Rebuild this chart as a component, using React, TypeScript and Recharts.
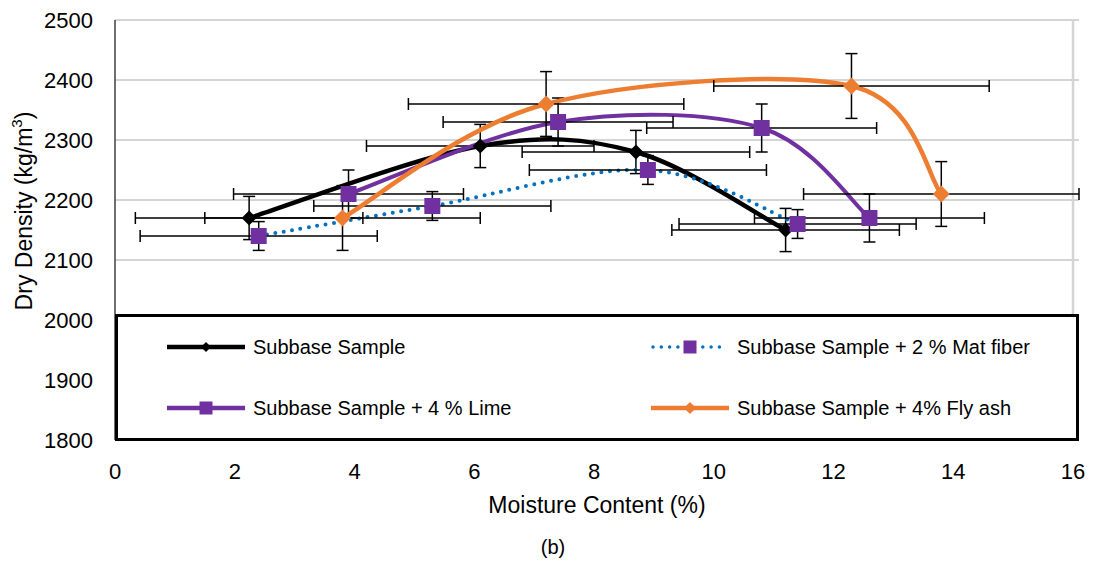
import React from 'react';
import {
  ComposedChart,
  Line,
  Scatter,
  XAxis,
  YAxis,
  CartesianGrid,
  ErrorBar,
  Legend,
  ReferenceLine,
} from 'recharts';

// ---------- data ----------
const seriesNames = [
  'Subbase Sample',
  'Subbase Sample + 2 % Mat fiber',
  'Subbase Sample + 4 % Lime',
  'Subbase Sample + 4% Fly ash',
];

const subbaseMoisture = [2.24, 6.1, 8.7, 11.2];
const subbaseDensity = [2170, 2290, 2280, 2150];
const subbaseMoistureErr = [1.9, 1.9, 1.9, 1.9];
const subbaseDensityErr = [36, 36, 36, 36];

const matMoisture = [2.4, 5.3, 8.9, 11.4];
const matDensity = [2140, 2190, 2250, 2160];
const matMoistureErr = [1.98, 1.98, 1.98, 1.98];
const matDensityErr = [24, 24, 24, 24];

const limeMoisture = [3.9, 7.4, 10.8, 12.6];
const limeDensity = [2210, 2330, 2320, 2170];
const limeMoistureErr = [1.92, 1.92, 1.92, 1.92];
const limeDensityErr = [40, 40, 40, 40];

const flyMoisture = [3.8, 7.2, 12.3, 13.8];
const flyDensity = [2170, 2360, 2390, 2210];
const flyMoistureErr = [2.3, 2.3, 2.3, 2.3];
const flyDensityErr = [54, 54, 54, 54];

const xTicks = [0, 2, 4, 6, 8, 10, 12, 14, 16];
const yTicks = [1800, 1900, 2000, 2100, 2200, 2300, 2400, 2500];

const xTitle = 'Moisture Content (%)';
const yTitle = 'Dry Density (kg/m';
const yTitleSup = '3';
const caption = '(b)';

// ---------- helpers ----------
const build = (xs: number[], ys: number[], exs: number[], eys: number[]) =>
  xs.map((x, i) => ({ x, y: ys[i], ex: exs[i], ey: eys[i] }));

const subbaseData = build(subbaseMoisture, subbaseDensity, subbaseMoistureErr, subbaseDensityErr);
const matData = build(matMoisture, matDensity, matMoistureErr, matDensityErr);
const limeData = build(limeMoisture, limeDensity, limeMoistureErr, limeDensityErr);
const flyData = build(flyMoisture, flyDensity, flyMoistureErr, flyDensityErr);

const FONT = '"Liberation Sans", Arial, Helvetica, sans-serif';
const BLACK = '#000000';
const BLUE = '#0070C0';
const PURPLE = '#7030A0';
const ORANGE = '#ED7D31';
const GRID = '#D4D4D4';

// Excel-like smoothing curve (Catmull-Rom style Bezier)
function excelSmooth(context: any) {
  let pts: number[][] = [];
  return {
    areaStart() {},
    areaEnd() {},
    lineStart() {
      pts = [];
    },
    point(x: number, y: number) {
      pts.push([+x, +y]);
    },
    lineEnd() {
      const n = pts.length;
      if (n === 0) return;
      context.moveTo(pts[0][0], pts[0][1]);
      if (n === 1) return;
      const t = 1 / 6;
      for (let i = 0; i < n - 1; i++) {
        const p0 = pts[i - 1] || pts[i];
        const p1 = pts[i];
        const p2 = pts[i + 1];
        const p3 = pts[i + 2] || p2;
        context.bezierCurveTo(
          p1[0] + (p2[0] - p0[0]) * t,
          p1[1] + (p2[1] - p0[1]) * t,
          p2[0] - (p3[0] - p1[0]) * t,
          p2[1] - (p3[1] - p1[1]) * t,
          p2[0],
          p2[1]
        );
      }
    },
  };
}

const diamondShape = (r: number, color: string) => (props: any) => {
  const { cx, cy } = props;
  if (cx == null || cy == null) return <g />;
  return (
    <polygon
      points={`${cx},${cy - r} ${cx + r},${cy} ${cx},${cy + r} ${cx - r},${cy}`}
      fill={color}
    />
  );
};

const squareShape = (s: number, color: string) => (props: any) => {
  const { cx, cy } = props;
  if (cx == null || cy == null) return <g />;
  return <rect x={cx - s / 2} y={cy - s / 2} width={s} height={s} fill={color} />;
};

// ---------- legend ----------
const LegendIcon = ({ idx }: { idx: number }) => {
  const w = 78;
  const m = 10;
  const c = w / 2;
  if (idx === 0) {
    return (
      <svg width={w} height={20}>
        <line x1={0} y1={m} x2={w} y2={m} stroke={BLACK} strokeWidth={4.5} />
        <polygon points={`${c},${m - 5} ${c + 5},${m} ${c},${m + 5} ${c - 5},${m}`} fill={BLACK} />
      </svg>
    );
  }
  if (idx === 1) {
    return (
      <svg width={w} height={20}>
        <line
          x1={2}
          y1={m}
          x2={w - 2}
          y2={m}
          stroke={BLUE}
          strokeWidth={3.5}
          strokeDasharray="0 8.3"
          strokeLinecap="round"
        />
        <rect x={c - 6.5} y={m - 6.5} width={13} height={13} fill={PURPLE} />
      </svg>
    );
  }
  if (idx === 2) {
    return (
      <svg width={w} height={20}>
        <line x1={0} y1={m} x2={w} y2={m} stroke={PURPLE} strokeWidth={4.5} />
        <rect x={c - 6.5} y={m - 6.5} width={13} height={13} fill={PURPLE} />
      </svg>
    );
  }
  return (
    <svg width={w} height={20}>
      <line x1={0} y1={m} x2={w} y2={m} stroke={ORANGE} strokeWidth={4.5} />
      <polygon points={`${c},${m - 6} ${c + 6},${m} ${c},${m + 6} ${c - 6},${m}`} fill={ORANGE} />
    </svg>
  );
};

const legendPos = [
  { left: 52, top: 33 },
  { left: 536, top: 33 },
  { left: 52, top: 94 },
  { left: 536, top: 94 },
];

const renderLegend = () => (
  <div
    style={{
      position: 'relative',
      width: 964,
      height: 127,
      border: '3px solid #000',
      boxSizing: 'border-box',
      background: '#fff',
      fontFamily: FONT,
    }}
  >
    {seriesNames.map((name, i) => (
      <div
        key={name}
        style={{
          position: 'absolute',
          left: legendPos[i].left - 3,
          top: legendPos[i].top - 3 - 12,
          height: 24,
          display: 'flex',
          alignItems: 'center',
          whiteSpace: 'nowrap',
        }}
      >
        <LegendIcon idx={i} />
        <span style={{ marginLeft: 8, fontSize: 20, color: '#000', lineHeight: '24px' }}>{name}</span>
      </div>
    ))}
  </div>
);

// ---------- titles ----------
const renderXTitles = () => (
  <g>
    <text x={589} y={505} textAnchor="middle" fontSize={23} fontFamily={FONT} fill="#000">
      {xTitle}
    </text>
    <text x={545} y={546} textAnchor="middle" fontSize={20} fontFamily={FONT} fill="#000">
      {caption}
    </text>
  </g>
);

const renderYTitle = () => (
  <text
    x={16}
    y={203}
    transform="rotate(-90 16 203)"
    textAnchor="middle"
    dominantBaseline="central"
    fontSize={23}
    fontFamily={FONT}
    fill="#000"
  >
    {yTitle}
    <tspan dy={-8} fontSize={15}>
      {yTitleSup}
    </tspan>
    <tspan dy={8}>)</tspan>
  </text>
);

const tickStyle = { fontSize: 22, fontFamily: FONT, fill: '#000' };

export default function App() {
  return (
    <ComposedChart
      width={1083}
      height={555}
      margin={{ top: 12, right: 12, left: 0, bottom: 83 }}
    >
      <CartesianGrid vertical={false} stroke={GRID} strokeWidth={2} />
      <ReferenceLine x={16} stroke={GRID} strokeWidth={2.5} ifOverflow="visible" />
      <XAxis
        type="number"
        dataKey="x"
        domain={[0, 16]}
        ticks={xTicks}
        interval={0}
        axisLine={false}
        tickLine={false}
        tickSize={0}
        tickMargin={23}
        height={40}
        tick={tickStyle}
        label={renderXTitles}
      />
      <YAxis
        type="number"
        dataKey="y"
        domain={[1800, 2500]}
        ticks={yTicks}
        interval={0}
        width={107}
        axisLine={{ stroke: '#404040', strokeWidth: 1.5 }}
        tickLine={false}
        tickSize={0}
        tickMargin={22}
        tick={tickStyle}
        label={renderYTitle}
      />

      <Line
        data={subbaseData}
        dataKey="y"
        type={excelSmooth as any}
        stroke={BLACK}
        strokeWidth={4.5}
        dot={false}
        activeDot={false}
        isAnimationActive={false}
      />
      <Scatter data={subbaseData} shape={diamondShape(7.5, BLACK)} isAnimationActive={false}>
        <ErrorBar dataKey="ex" direction="x" width={6} stroke="#000" strokeWidth={1.5} isAnimationActive={false} />
        <ErrorBar dataKey="ey" direction="y" width={6} stroke="#000" strokeWidth={1.5} isAnimationActive={false} />
      </Scatter>

      <Line
        data={matData}
        dataKey="y"
        type={excelSmooth as any}
        stroke={BLUE}
        strokeWidth={4}
        strokeDasharray="0 8.5"
        strokeLinecap="round"
        dot={false}
        activeDot={false}
        isAnimationActive={false}
      />
      <Scatter data={matData} shape={squareShape(16, PURPLE)} isAnimationActive={false}>
        <ErrorBar dataKey="ex" direction="x" width={6} stroke="#000" strokeWidth={1.5} isAnimationActive={false} />
        <ErrorBar dataKey="ey" direction="y" width={6} stroke="#000" strokeWidth={1.5} isAnimationActive={false} />
      </Scatter>

      <Line
        data={limeData}
        dataKey="y"
        type={excelSmooth as any}
        stroke={PURPLE}
        strokeWidth={4}
        dot={false}
        activeDot={false}
        isAnimationActive={false}
      />
      <Scatter data={limeData} shape={squareShape(16, PURPLE)} isAnimationActive={false}>
        <ErrorBar dataKey="ex" direction="x" width={6} stroke="#000" strokeWidth={1.5} isAnimationActive={false} />
        <ErrorBar dataKey="ey" direction="y" width={6} stroke="#000" strokeWidth={1.5} isAnimationActive={false} />
      </Scatter>

      <Line
        data={flyData}
        dataKey="y"
        type={excelSmooth as any}
        stroke={ORANGE}
        strokeWidth={4.5}
        dot={false}
        activeDot={false}
        isAnimationActive={false}
      />
      <Scatter data={flyData} shape={diamondShape(8.5, ORANGE)} isAnimationActive={false}>
        <ErrorBar dataKey="ex" direction="x" width={6} stroke="#000" strokeWidth={1.5} isAnimationActive={false} />
        <ErrorBar dataKey="ey" direction="y" width={6} stroke="#000" strokeWidth={1.5} isAnimationActive={false} />
      </Scatter>

      <Legend
        layout="horizontal"
        verticalAlign="middle"
        align="center"
        content={renderLegend}
        wrapperStyle={{ left: 107, top: 306, width: 964, height: 127 }}
      />
    </ComposedChart>
  );
}
